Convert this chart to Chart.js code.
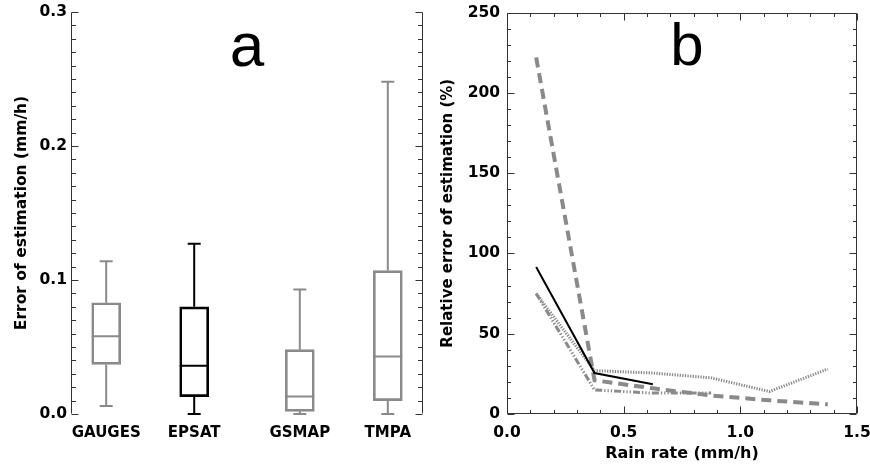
<!DOCTYPE html>
<html>
<head>
<meta charset="utf-8">
<script src="https://cdn.jsdelivr.net/npm/chart.js@4/dist/chart.umd.min.js"></script>
<style>
  html, body { margin: 0; padding: 0; background: #fff; }
  #wrap { position: relative; width: 870px; height: 465px; }
  #wrap canvas { position: absolute; top: 0; }
  #chartA { left: 0; }
  #chartB { left: 435px; }
</style>
</head>
<body>
<div id="wrap">
  <canvas id="chartA" width="435" height="465"></canvas>
  <canvas id="chartB" width="435" height="465"></canvas>
</div>
<script>
// ---- panel a : error of estimation, box plots ----
const BOX_NAMES = ['GAUGES', 'EPSAT', 'GSMAP', 'TMPA'];
const BOX_X     = [0.4, 1.4, 2.6, 3.6];
const BOX_MIN   = [0.006, 0.000, 0.000, 0.000];
const BOX_Q1    = [0.037, 0.013, 0.002, 0.010];
const BOX_MED   = [0.058, 0.036, 0.013, 0.043];
const BOX_Q3    = [0.083, 0.080, 0.048, 0.107];
const BOX_MAX   = [0.114, 0.127, 0.093, 0.248];
const ERR_TICKS = [0.0, 0.1, 0.2, 0.3];

// ---- panel b : relative error vs rain rate ----
const RAIN_RATE   = [0.125, 0.375, 0.625, 0.875, 1.125, 1.375];
const REL_SOLID   = [91.5, 25.5, 18.5];
const REL_DASHED  = [222, 21, 16, 11.5, 8.5, 6];
const REL_DOTTED  = [75, 27, 25.5, 22.5, 14, 28];
const REL_DASHDOT = [75, 15, 13, 13];
const RATE_TICKS  = [0.0, 0.5, 1.0, 1.5];
const REL_TICKS   = [0, 50, 100, 150, 200, 250];

const GREY = '#8a8a8a';
const BOX_COLORS = [GREY, '#000000', GREY, GREY];
const FAMILY = "'DejaVu Sans', sans-serif";

function points(values) {
    return values.map((v, i) => ({x: RAIN_RATE[i], y: v}));
}

// minor + major tick list for a scale
function tickMarks(scale, step) {
    const out = [];
    const n = Math.round((scale.max - scale.min) / step);
    for (let i = 0; i <= n; i++) {
        const v = scale.min + i * step;
        const major = scale.ticks.some(t => Math.abs(t.value - v) < step / 10);
        out.push({v: v, major: major});
    }
    return out;
}

// IDL style frame: axis lines with ticks pointing inward
const idlAxes = {
    id: 'idlAxes',
    afterDraw(chart, args, opts) {
        const ctx = chart.ctx, a = chart.chartArea;
        const xs = chart.scales.x, ys = chart.scales.y;
        const L = Math.round(a.left) + 0.5, R = Math.round(a.right) - 0.5;
        const T = Math.round(a.top) + 0.5, B = Math.round(a.bottom) - 0.5;
        const has = s => opts.sides.includes(s);
        ctx.save();
        ctx.strokeStyle = opts.color;
        ctx.lineWidth = 1;
        ctx.beginPath();
        if (has('left'))   { ctx.moveTo(L, T); ctx.lineTo(L, B); }
        if (has('right'))  { ctx.moveTo(R, T); ctx.lineTo(R, B); }
        if (has('top'))    { ctx.moveTo(L, T); ctx.lineTo(R, T); }
        if (has('bottom')) { ctx.moveTo(L, B); ctx.lineTo(R, B); }
        tickMarks(ys, opts.yMinor).forEach(m => {
            const py = Math.round(ys.getPixelForValue(m.v)) + 0.5;
            const len = m.major ? opts.major : opts.minor;
            if (has('left'))  { ctx.moveTo(L, py); ctx.lineTo(L + len, py); }
            if (has('right')) { ctx.moveTo(R, py); ctx.lineTo(R - len, py); }
        });
        if (opts.xMinor) {
            tickMarks(xs, opts.xMinor).forEach(m => {
                const px = Math.round(xs.getPixelForValue(m.v)) + 0.5;
                const len = m.major ? opts.major : opts.minor;
                if (has('bottom')) { ctx.moveTo(px, B); ctx.lineTo(px, B - len); }
                if (has('top'))    { ctx.moveTo(px, T); ctx.lineTo(px, T + len); }
            });
        }
        ctx.stroke();
        ctx.restore();
    }
};

// whiskers and medians on top of the floating bars
const boxWhiskers = {
    id: 'boxWhiskers',
    afterDatasetsDraw(chart, args, opts) {
        const ctx = chart.ctx;
        const xs = chart.scales.x, ys = chart.scales.y;
        const bars = chart.getDatasetMeta(0).data;
        ctx.save();
        ctx.lineWidth = opts.lineWidth;
        BOX_X.forEach((xv, i) => {
            const px = xs.getPixelForValue(xv);
            const half = bars[i].width / 2;
            const yMax = ys.getPixelForValue(BOX_MAX[i]);
            const yMin = ys.getPixelForValue(BOX_MIN[i]);
            const yQ1 = ys.getPixelForValue(BOX_Q1[i]);
            const yQ3 = ys.getPixelForValue(BOX_Q3[i]);
            const yMed = ys.getPixelForValue(BOX_MED[i]);
            ctx.strokeStyle = BOX_COLORS[i];
            ctx.beginPath();
            ctx.moveTo(px, yQ3); ctx.lineTo(px, yMax);
            ctx.moveTo(px - opts.cap, yMax); ctx.lineTo(px + opts.cap, yMax);
            ctx.moveTo(px, yQ1); ctx.lineTo(px, yMin);
            ctx.moveTo(px - opts.cap, yMin); ctx.lineTo(px + opts.cap, yMin);
            ctx.moveTo(px - half, yMed); ctx.lineTo(px + half, yMed);
            ctx.stroke();
        });
        ctx.restore();
    }
};

// big panel letter
const panelLetter = {
    id: 'panelLetter',
    afterDraw(chart, args, opts) {
        const ctx = chart.ctx, a = chart.chartArea;
        ctx.save();
        ctx.font = opts.font;
        ctx.fillStyle = '#000';
        ctx.textAlign = 'center';
        ctx.textBaseline = 'alphabetic';
        ctx.fillText(opts.text, (a.left + a.right) / 2 + opts.dx, opts.baseline);
        ctx.restore();
    }
};

const tickFont = {family: FAMILY, size: 15.5, weight: 'bold'};
const titleFont = {family: FAMILY, size: 15, weight: 'bold'};

new Chart(document.getElementById('chartA'), {
    type: 'bar',
    data: {
        datasets: [{
            data: BOX_X.map((x, i) => ({x: x, y: [BOX_Q1[i], BOX_Q3[i]]})),
            backgroundColor: 'rgba(0,0,0,0)',
            borderColor: BOX_COLORS,
            borderWidth: 2,
            borderSkipped: false,
            barThickness: 29
        }]
    },
    options: {
        responsive: false,
        animation: false,
        layout: {padding: {top: 12, right: 12, left: 0, bottom: 0}},
        plugins: {
            legend: {display: false},
            tooltip: {enabled: false},
            idlAxes: {sides: ['left', 'right'], color: '#333', yMinor: 0.01, major: 7, minor: 4.5},
            boxWhiskers: {lineWidth: 2, cap: 6.5},
            panelLetter: {text: 'a', font: "62px 'Liberation Sans', Arial, sans-serif", dx: 0, baseline: 66}
        },
        scales: {
            x: {
                type: 'linear', min: 0, max: 4, offset: false,
                grid: {display: false, drawTicks: false},
                border: {display: false},
                afterBuildTicks: s => { s.ticks = BOX_X.map(v => ({value: v})); },
                ticks: {
                    autoSkip: false, maxRotation: 0, padding: 10, color: '#000',
                    font: {family: FAMILY, size: 15, weight: 'bold'},
                    callback: (v, i) => BOX_NAMES[i]
                },
                afterFit: s => { s.height = 51; s.paddingLeft = 0; s.paddingRight = 0; }
            },
            y: {
                min: 0, max: 0.3,
                grid: {display: false, drawTicks: false},
                border: {display: false},
                afterBuildTicks: s => { s.ticks = ERR_TICKS.map(v => ({value: v})); },
                ticks: {padding: 4, color: '#000', font: tickFont, callback: v => v.toFixed(1)},
                title: {display: true, text: 'Error of estimation (mm/h)', color: '#000', font: {family: FAMILY, size: 15.5, weight: 'bold'}, padding: {top: 12.5, bottom: 0}},
                afterFit: s => { s.width = 71; s.paddingTop = 0; s.paddingBottom = 0; }
            }
        }
    },
    plugins: [idlAxes, boxWhiskers, panelLetter]
});

new Chart(document.getElementById('chartB'), {
    type: 'line',
    data: {
        datasets: [
            {label: 'solid', data: points(REL_SOLID), borderColor: '#000', borderWidth: 2},
            {label: 'dashed', data: points(REL_DASHED), borderColor: GREY, borderWidth: 4, borderDash: [10, 6]},
            {label: 'dotted', data: points(REL_DOTTED), borderColor: GREY, borderWidth: 3, borderDash: [1.3, 1.3]},
            {label: 'dashdot', data: points(REL_DASHDOT), borderColor: GREY, borderWidth: 3, borderDash: [7, 2, 1.3, 2, 1.3, 2, 1.3, 2]}
        ]
    },
    options: {
        responsive: false,
        animation: false,
        elements: {point: {radius: 0}, line: {tension: 0, fill: false}},
        layout: {padding: {top: 12.5, right: 13, left: 0, bottom: 0}},
        plugins: {
            legend: {display: false},
            tooltip: {enabled: false},
            idlAxes: {sides: ['left', 'right', 'top', 'bottom'], color: '#333', yMinor: 10, xMinor: 0.1, major: 7, minor: 3.5},
            panelLetter: {text: 'b', font: "60px 'Liberation Sans', Arial, sans-serif", dx: 5, baseline: 65}
        },
        scales: {
            x: {
                type: 'linear', min: 0, max: 1.5,
                grid: {display: false, drawTicks: false},
                border: {display: false},
                afterBuildTicks: s => { s.ticks = RATE_TICKS.map(v => ({value: v})); },
                ticks: {autoSkip: false, maxRotation: 0, padding: 10, color: '#000', font: tickFont, callback: v => v.toFixed(1)},
                title: {display: true, text: 'Rain rate (mm/h)', color: '#000', font: {family: FAMILY, size: 16, weight: 'bold'}, padding: {top: 0, bottom: 2}},
                afterFit: s => { s.height = 51; s.paddingLeft = 0; s.paddingRight = 0; }
            },
            y: {
                min: 0, max: 250,
                grid: {display: false, drawTicks: false},
                border: {display: false},
                afterBuildTicks: s => { s.ticks = REL_TICKS.map(v => ({value: v})); },
                ticks: {padding: 7, color: '#000', font: tickFont},
                title: {display: true, text: 'Relative error of estimation (%)', color: '#000', font: titleFont, padding: {top: 4, bottom: 0}},
                afterFit: s => { s.width = 72; s.paddingTop = 0; s.paddingBottom = 0; }
            }
        }
    },
    plugins: [idlAxes, panelLetter]
});
</script>
</body>
</html>
